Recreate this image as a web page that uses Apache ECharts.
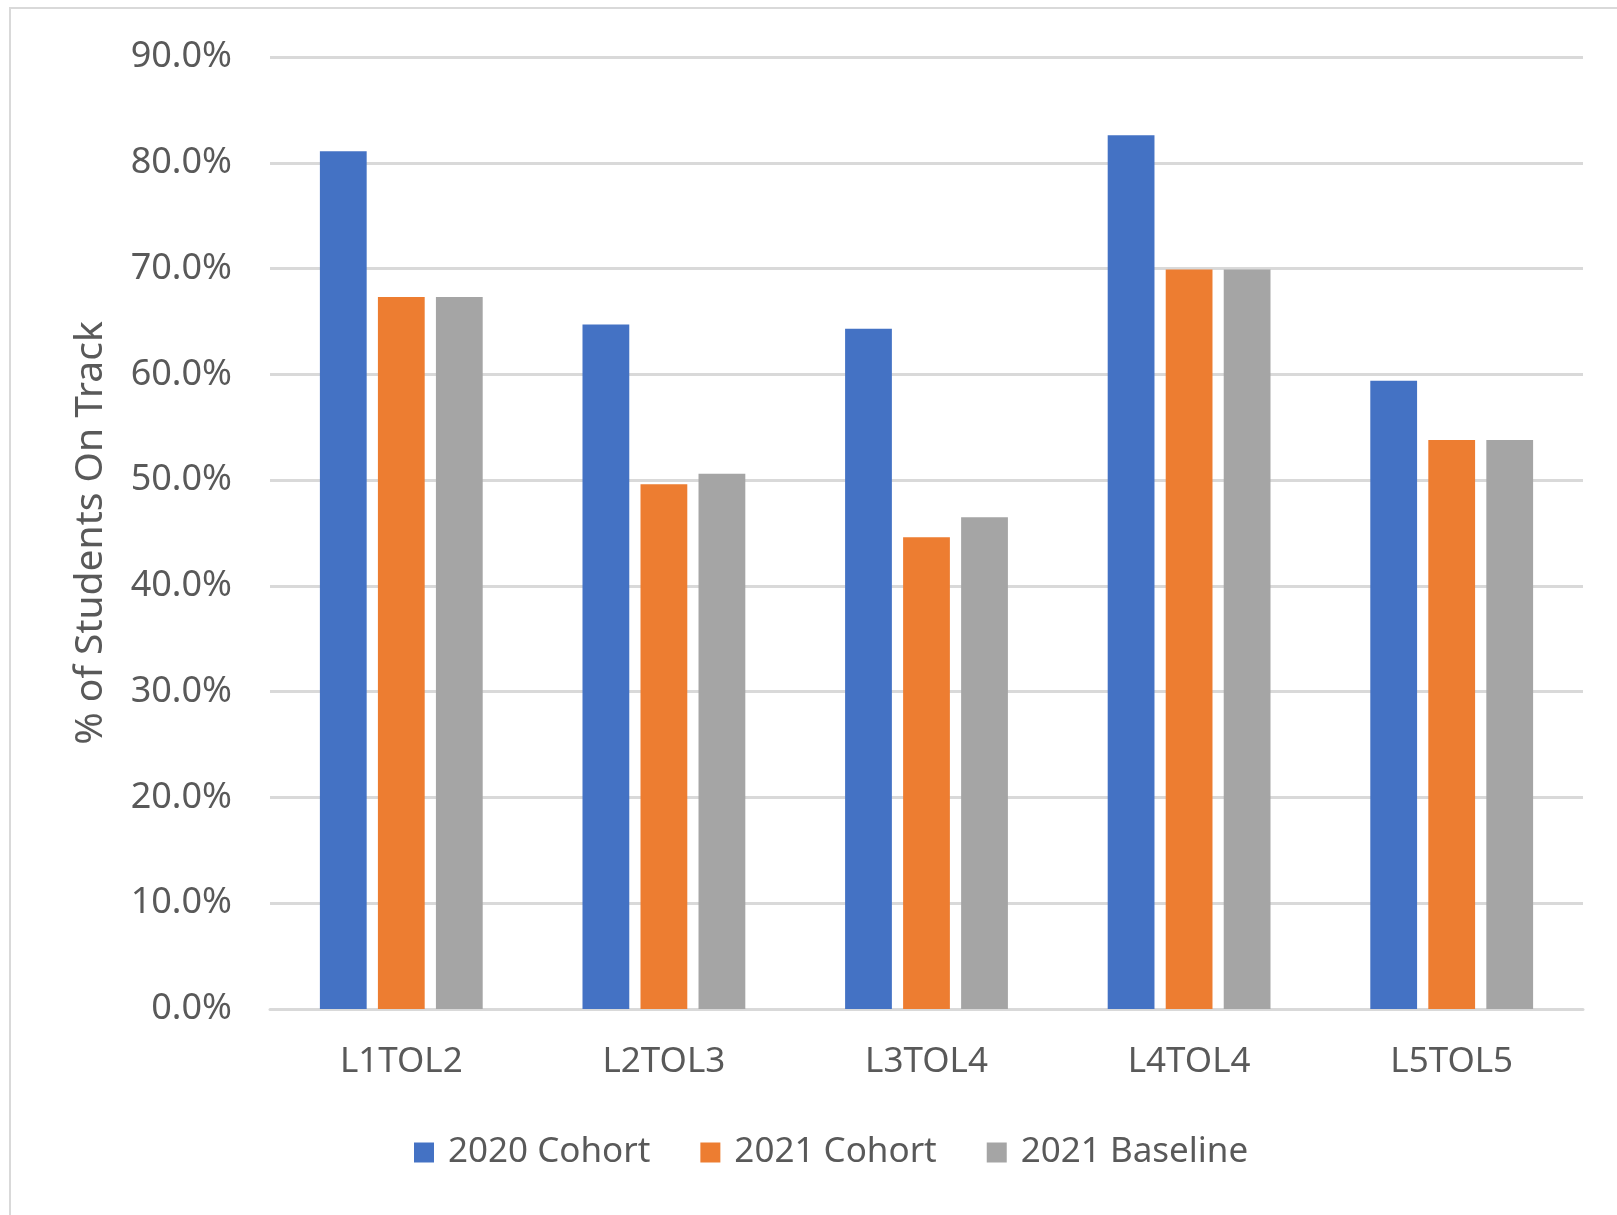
<!DOCTYPE html>
<html>
<head>
<meta charset="utf-8">
<script src="https://cdn.jsdelivr.net/npm/echarts@6/dist/echarts.min.js"></script>
<style>
  html, body { margin: 0; padding: 0; background: #ffffff; }
  #chart { width: 1617px; height: 1215px; }
</style>
</head>
<body>
<div id="chart"></div>
<script>
// Transition categories and the share of students on track (%)
const categories = ['L1TOL2', 'L2TOL3', 'L3TOL4', 'L4TOL4', 'L5TOL5'];
const cohort2020 = [81.1, 64.7, 64.3, 82.6, 59.4];
const cohort2021 = [67.3, 49.6, 44.6, 69.9, 53.8];
const baseline2021 = [67.3, 50.6, 46.5, 69.9, 53.8];
const seriesNames = ['2020 Cohort', '2021 Cohort', '2021 Baseline'];
const yTicks = { min: 0, max: 90, step: 10 };

const FONT = 'Noto Sans';
const TEXT = '#595959';
const GRID = '#d9d9d9';

const chart = echarts.init(document.getElementById('chart'));

const bar = (name, data, color) => ({
  name, type: 'bar', data,
  itemStyle: { color },
  barGap: '24%',
  barCategoryGap: '38%'
});

chart.setOption({
  animation: false,
  backgroundColor: '#ffffff',
  textStyle: { fontFamily: FONT },
  graphic: [{
    type: 'rect',
    shape: { x: 10, y: 8, width: 2000, height: 2000 },
    style: { fill: 'none', stroke: GRID, lineWidth: 2 },
    silent: true
  }],
  grid: { left: 270, right: 34, top: 57, bottom: 206 },
  legend: {
    bottom: 40,
    left: 409,
    itemWidth: 20,
    itemHeight: 20,
    itemGap: 50,
    icon: 'rect',
    textStyle: { fontFamily: FONT, fontSize: 35, color: TEXT, padding: [0, 0, 0, 9] },
    data: seriesNames
  },
  xAxis: {
    type: 'category',
    data: categories,
    axisLine: { lineStyle: { color: GRID, width: 3 } },
    axisTick: { show: false },
    axisLabel: { fontFamily: FONT, fontSize: 35, color: TEXT, margin: 36 }
  },
  yAxis: {
    type: 'value',
    min: yTicks.min,
    max: yTicks.max,
    interval: yTicks.step,
    name: '% of Students On Track',
    nameLocation: 'middle',
    nameGap: 160,
    nameTextStyle: { fontFamily: FONT, fontSize: 39, color: TEXT },
    axisLine: { show: false },
    axisTick: { show: false },
    splitLine: { lineStyle: { color: GRID, width: 3 } },
    axisLabel: {
      fontFamily: FONT, fontSize: 36, color: TEXT, margin: 38,
      formatter: v => v.toFixed(1) + '%'
    }
  },
  series: [
    bar(seriesNames[0], cohort2020, '#4472C4'),
    bar(seriesNames[1], cohort2021, '#ED7D31'),
    bar(seriesNames[2], baseline2021, '#A5A5A5')
  ]
});
</script>
</body>
</html>
